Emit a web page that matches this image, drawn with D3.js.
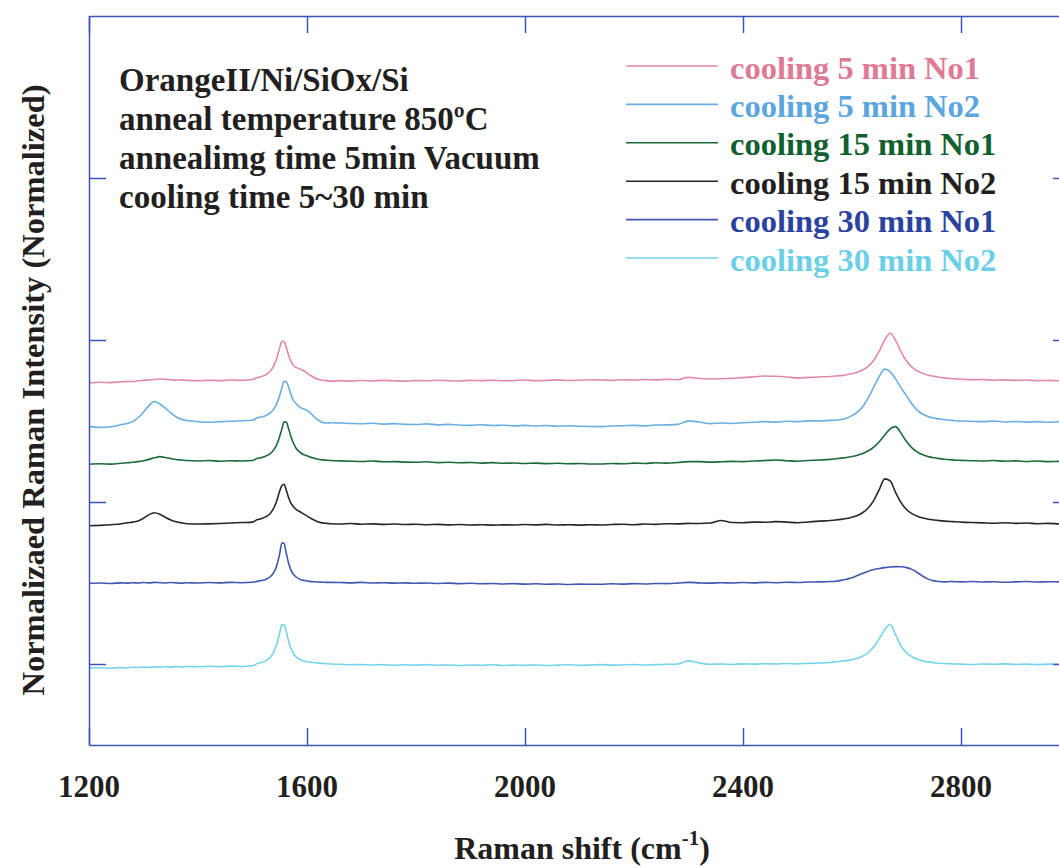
<!DOCTYPE html>
<html>
<head>
<meta charset="utf-8">
<script src="https://cdn.jsdelivr.net/npm/d3@7"></script>
<style>
  html, body { margin: 0; padding: 0; background: #fff; overflow: hidden; }
  svg { display: block; }
  text { font-family: "Liberation Serif", "Times New Roman", serif; font-weight: bold; }
</style>
</head>
<body>
<svg id="chart" width="1059" height="868"></svg>
<script>
// Raman shift sampling grid (cm^-1)
const shift = [
  1200,1220,1240,1260,1270,1280,1290,1300,1310,1320,1330,1340,1350,1360,1370,1380,1400,1420,1440,1460,1480,1500,
  1508,1516,1524,1532,1540,1545,1550,1554,1558,1562,1566,1570,1575,1580,1588,1596,1604,1612,1620,1628,1636,1644,
  1660,1680,1700,1720,1740,1760,1780,1800,1820,1840,1860,1880,1900,1920,1940,1960,1980,2000,2020,2040,2060,2080,
  2100,2120,2140,2160,2180,2200,2220,2240,2260,2280,2300,2320,2340,2360,2380,2400,2420,2440,2460,2480,2500,2520,2540,2560,
  2570,2580,2590,2600,2610,2620,2630,2640,2650,2660,2670,2680,2690,2700,2710,2720,2730,2740,2750,2760,2770,2780,2790,2800,
  2820,2840,2860,2880,2900,2920,2940,2960,2980,3000
];

// Normalized intensities (stacked with offsets), one array per sample
const cooling5No1 = [
  173.5,173.9,173.7,174.2,174.4,174.3,174.8,175.1,175.4,175.6,175.9,175.7,175.5,175.2,175.4,175.1,174.8,175.2,174.9,175.3,175.1,175.6,
  176.7,177.4,178.5,180.6,184.8,189.3,195.2,199.2,199.0,195.5,190.9,187.3,184.3,183.1,182.0,180.6,178.6,177.0,175.8,175.2,174.9,174.6,
  174.9,174.6,175.0,174.7,175.1,174.8,174.6,175.0,174.8,175.2,174.9,174.7,175.1,174.9,175.2,174.8,175.0,175.3,174.9,175.1,175.4,175.0,
  175.2,175.5,175.3,175.1,175.5,175.3,175.6,175.4,175.7,175.5,176.9,176.2,175.9,176.1,176.4,176.8,177.3,177.8,177.6,177.2,176.6,176.9,177.2,177.5,
  177.8,178.0,178.5,179.2,180.1,181.6,183.9,187.5,193.1,200.1,204.2,199.8,192.7,187.0,183.3,180.9,179.4,178.3,177.6,177.0,176.6,176.2,176.0,175.8,
  175.5,175.6,175.2,175.4,175.1,175.3,174.9,175.1,174.8,174.9
];
const cooling5No2 = [
  146.5,146.0,146.5,147.8,148.5,149.6,152.0,155.5,159.5,162.0,160.5,158.0,155.0,152.5,151.0,150.3,149.6,149.2,149.6,149.8,150.2,150.5,
  151.9,152.5,153.3,154.8,157.8,161.0,165.9,170.7,174.5,174.3,171.2,166.9,162.8,160.8,158.3,157.2,155.6,153.0,150.6,149.3,148.8,148.9,
  148.8,148.5,148.3,148.6,148.1,148.4,147.9,147.8,148.2,147.6,147.9,147.5,147.3,147.7,147.2,147.4,147.0,147.3,146.9,147.2,146.8,147.1,
  146.8,146.6,146.5,146.9,147.1,147.3,147.0,147.5,147.6,147.9,150.1,149.4,148.4,148.8,148.5,148.9,149.2,149.6,149.3,149.8,149.6,150.1,150.0,150.4,
  150.5,150.9,151.7,153.3,155.5,159.0,164.5,171.0,177.5,182.0,180.5,176.0,170.5,165.5,160.5,156.6,154.2,152.7,151.8,151.3,150.8,150.5,150.2,150.0,
  149.8,149.6,149.9,149.4,149.7,149.3,149.6,149.2,149.5,149.1
];
const cooling15No1 = [
  123.3,123.6,123.4,123.9,124.2,124.5,124.9,125.5,126.3,127.3,128.0,127.5,126.8,126.2,125.9,125.6,125.3,125.6,125.2,125.5,125.3,125.6,
  126.9,127.4,128.3,129.7,132.6,135.8,140.6,145.3,149.5,149.4,145.5,140.9,136.4,133.2,130.4,129.0,128.0,127.1,126.4,126.0,125.8,125.6,
  125.4,125.2,125.0,125.3,124.8,124.9,124.6,124.5,124.8,124.3,124.5,124.2,124.4,124.0,124.3,123.9,124.1,123.8,124.0,123.7,123.9,123.6,
  123.8,123.5,123.5,123.8,123.6,124.0,123.8,124.2,124.0,124.4,124.9,124.9,124.6,124.8,125.1,124.9,125.3,125.6,125.9,125.5,125.2,125.6,125.9,126.3,
  126.7,127.1,127.5,128.1,128.9,130.0,131.6,133.9,137.2,141.3,145.2,146.5,142.5,137.3,133.4,130.8,129.1,128.0,127.3,126.8,126.4,126.1,125.8,125.7,
  125.5,125.3,125.6,125.2,125.4,125.0,125.3,124.9,125.1,124.8
];
const cooling15No2 = [
  85.3,85.6,86.0,86.6,87.2,87.6,88.3,90.0,92.2,93.4,92.5,90.6,88.9,87.8,87.1,86.6,86.4,86.5,86.7,87.0,87.3,87.6,
  89.0,89.7,90.8,92.8,96.9,101.2,106.9,110.2,111.0,107.3,102.9,99.6,97.0,95.5,93.8,92.2,90.5,89.0,87.8,87.1,86.8,86.6,
  86.4,86.7,86.3,86.5,86.2,86.4,86.1,86.3,86.0,86.2,85.9,86.1,85.8,86.0,85.7,85.9,85.8,86.1,85.9,86.2,85.8,86.0,
  85.7,86.0,85.8,86.1,86.3,86.0,86.4,86.2,86.6,86.5,86.8,86.7,87.0,88.6,87.3,87.2,87.6,87.5,87.9,87.6,87.2,87.7,88.2,88.6,
  88.9,89.3,89.8,90.6,91.7,93.5,96.4,101.0,107.7,114.3,113.1,105.9,99.6,95.4,92.8,91.2,90.1,89.4,88.9,88.5,88.2,88.0,87.8,87.6,
  87.3,87.1,86.9,87.2,86.8,87.0,86.6,86.8,86.5,86.4
];
const cooling30No1 = [
  49.8,50.0,49.7,50.1,49.9,50.2,50.0,50.3,50.1,50.4,50.2,50.0,50.3,50.1,49.9,50.2,50.0,50.3,50.1,50.4,50.2,50.5,
  51.0,51.5,52.2,53.7,57.0,61.3,68.3,74.8,74.4,68.3,62.5,58.4,55.4,53.7,52.2,51.5,51.0,50.8,50.6,50.5,50.4,50.4,
  50.3,50.1,50.4,50.0,50.2,49.9,50.1,49.8,50.0,49.7,49.9,49.6,49.8,49.5,49.7,49.4,49.6,49.3,49.5,49.2,49.4,49.1,
  49.3,49.2,49.2,49.5,49.3,49.6,49.4,49.7,49.6,49.9,50.4,50.1,49.9,50.2,50.0,50.3,50.1,50.4,50.2,50.5,50.3,50.6,50.7,50.9,
  51.1,51.6,52.3,53.2,54.6,56.0,57.3,58.3,59.0,59.5,59.9,60.1,60.0,59.5,58.4,56.5,54.2,52.4,51.3,50.9,50.7,50.9,50.8,50.7,
  50.9,50.6,50.8,50.5,50.7,50.9,50.6,50.8,50.7,50.8
];
const cooling30No2 = [
  -2.5,-2.3,-2.6,-2.2,-2.4,-2.0,-2.2,-1.9,-2.1,-1.8,-2.0,-1.7,-1.9,-1.6,-1.8,-1.5,-1.7,-1.4,-1.6,-1.3,-1.5,-1.1,
  0.2,0.9,1.9,3.9,8.1,12.8,19.5,24.2,24.0,20.0,14.5,10.0,6.5,4.4,2.6,1.7,1.2,0.9,0.6,0.4,0.2,0.0,
  -0.2,-0.5,-0.3,-0.6,-0.4,-0.8,-0.5,-0.7,-0.4,-0.8,-0.6,-0.9,-0.6,-0.8,-0.5,-0.9,-0.7,-0.8,-0.6,-0.9,-0.7,-0.5,
  -0.8,-0.6,-0.4,-0.7,-0.5,-0.3,-0.6,-0.4,-0.2,0.0,1.9,0.6,-0.2,0.0,-0.3,0.1,-0.1,0.2,0.0,0.3,0.1,0.4,0.6,0.9,
  1.4,1.7,2.1,2.7,3.5,4.9,7.1,10.6,15.6,21.1,24.5,18.0,11.1,6.9,4.5,2.9,1.9,1.3,0.8,0.5,0.3,0.2,0.0,-0.1,
  -0.3,0.0,-0.2,0.1,-0.3,-0.1,-0.4,-0.1,-0.2,-0.3
];

const seriesNames = [
  "cooling 5 min No1", "cooling 5 min No2",
  "cooling 15 min No1", "cooling 15 min No2",
  "cooling 30 min No1", "cooling 30 min No2"
];
const seriesValues = [cooling5No1, cooling5No2, cooling15No1, cooling15No2, cooling30No1, cooling30No2];
const lineColors = ["#e08aa3", "#6aaee2", "#1a6a3a", "#2a2627", "#4257b0", "#76d3ea"];
const textColors = ["#de7a94", "#5ca6de", "#11602f", "#231f20", "#2b439f", "#6ccfe8"];

const xTicks = [1200, 1600, 2000, 2400, 2800];
const yTicks = [0, 100, 200, 300];

const sampleInfo = [
  "OrangeII/Ni/SiOx/Si",
  "anneal temperature 850ºC",
  "annealimg time 5min Vacuum",
  "cooling time 5~30 min"
];

const svg = d3.select("#chart");
const frameColor = "#3a55b5";

// Plot frame extends past the right edge of the page
const plotLeft = 89, plotRight = 1070, plotTop = 16, plotBottom = 745;
const x = d3.scaleLinear().domain([1200, 3000]).range([plotLeft, plotRight]);
const y = d3.scaleLinear().domain([-50, 400]).range([plotBottom, plotTop]);

// Spectra
const line = d3.line()
  .x((d, i) => x(shift[i]))
  .y(d => y(d))
  .curve(d3.curveMonotoneX);

const plot = svg.append("g");
seriesValues.forEach((vals, k) => {
  plot.append("path")
    .datum(vals)
    .attr("d", line)
    .attr("fill", "none")
    .attr("stroke", lineColors[k])
    .attr("stroke-width", 1.6)
    .attr("stroke-linejoin", "round");
});

// Axes with inward ticks on all four sides
const tickLen = 17;
const bottomAxis = d3.axisBottom(x).tickValues(xTicks).tickSize(-tickLen).tickSizeOuter(0).tickFormat("");
const topAxis = d3.axisTop(x).tickValues(xTicks).tickSize(-tickLen).tickSizeOuter(0).tickFormat("");
const leftAxis = d3.axisLeft(y).tickValues(yTicks).tickSize(-tickLen).tickSizeOuter(0).tickFormat("");
const rightAxis = d3.axisRight(y).tickValues(yTicks).tickSize(-tickLen).tickSizeOuter(0).tickFormat("");

function styleAxis(g) {
  g.selectAll("path.domain").attr("stroke", frameColor).attr("stroke-width", 1.5);
  g.selectAll(".tick line").attr("stroke", frameColor).attr("stroke-width", 1.5);
}
svg.append("g").attr("transform", `translate(0,${plotBottom})`).call(bottomAxis).call(styleAxis);
svg.append("g").attr("transform", `translate(0,${plotTop})`).call(topAxis).call(styleAxis);
svg.append("g").attr("transform", `translate(${plotLeft},0)`).call(leftAxis).call(styleAxis);
svg.append("g").attr("transform", `translate(${plotRight},0)`).call(rightAxis).call(styleAxis);

// X tick labels
svg.append("g").selectAll("text")
  .data(xTicks)
  .join("text")
  .attr("x", d => x(d))
  .attr("y", 797)
  .attr("text-anchor", "middle")
  .attr("font-size", 31)
  .attr("fill", "#231f20")
  .text(d => d);

// Axis titles
const xTitle = svg.append("text")
  .attr("x", 582)
  .attr("y", 859)
  .attr("text-anchor", "middle")
  .attr("font-size", 32)
  .attr("fill", "#231f20");
xTitle.append("tspan").text("Raman shift (cm");
xTitle.append("tspan").attr("font-size", 21).attr("dy", -14).text("-1");
xTitle.append("tspan").attr("dy", 14).text(")");

svg.append("text")
  .attr("transform", "translate(44,390) rotate(-90)")
  .attr("text-anchor", "middle")
  .attr("font-size", 32.5)
  .attr("fill", "#231f20")
  .text("Normalizaed Raman Intensity (Normalized)");

// Sample description
svg.append("g").selectAll("text")
  .data(sampleInfo)
  .join("text")
  .attr("x", 119)
  .attr("y", (d, i) => 91 + i * 39)
  .attr("font-size", 33)
  .attr("fill", "#231f20")
  .text(d => d);

// Legend
const legend = svg.append("g");
seriesNames.forEach((name, k) => {
  const ly = 66 + k * 38.4;
  legend.append("line")
    .attr("x1", 626).attr("x2", 718)
    .attr("y1", ly).attr("y2", ly)
    .attr("stroke", lineColors[k])
    .attr("stroke-width", 1.6);
  legend.append("text")
    .attr("x", 730)
    .attr("y", ly + 12.5)
    .attr("font-size", 32.5)
    .attr("fill", textColors[k])
    .text(name);
});
</script>
</body>
</html>
